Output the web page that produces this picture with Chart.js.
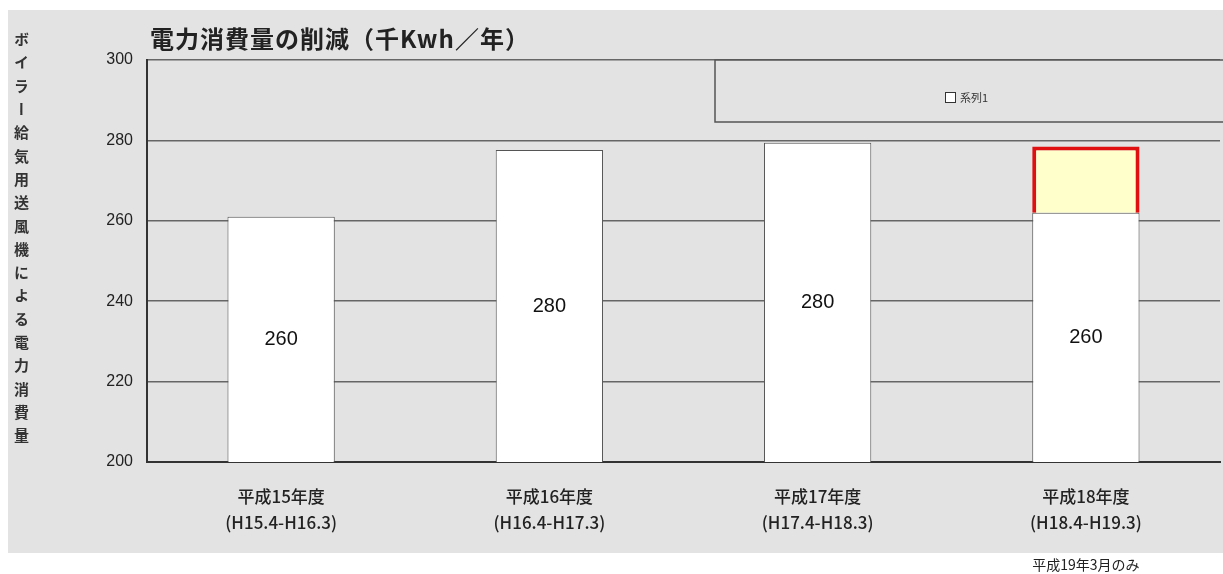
<!DOCTYPE html>
<html>
<head>
<meta charset="utf-8">
<script src="https://cdn.jsdelivr.net/npm/chart.js@4/dist/chart.umd.min.js"></script>
<style>
  html, body { margin: 0; padding: 0; background: #fff; }
  #wrap { position: relative; width: 1223px; height: 574px; }
  #yTitle {
    position: absolute; left: 11px; top: 32px;
    writing-mode: vertical-rl; text-orientation: upright;
    font-family: "Noto Sans CJK JP", sans-serif; font-weight: bold;
    font-size: 15px; letter-spacing: 8.3px; color: #333;
  }
</style>
</head>
<body>
<div id="wrap">
  <canvas id="mygraph" width="1223" height="574"></canvas>
  <div id="yTitle">ボイラー給気用送風機による電力消費量</div>
</div>
<script>
// chart data
const categories = [
  ['平成15年度', '(H15.4-H16.3)'],
  ['平成16年度', '(H16.4-H17.3)'],
  ['平成17年度', '(H17.4-H18.3)'],
  ['平成18年度', '(H18.4-H19.3)']
];
const series1 = [261, 277.6, 279.4, 262];
const bar_labels = ['260', '280', '280', '260'];
// highlighted reduction box on the last bar (from / to)
const reduction = [null, null, null, [262, 278.5]];
const y_ticks = [200, 220, 240, 260, 280, 300];
const title_text = '電力消費量の削減（千Kwh／年）';
const footnote = '平成19年3月のみ';

const jp = '"Noto Sans CJK JP", sans-serif';

// background, title, legend box, labels in bars
const decorations = {
  id: 'decorations',
  beforeDraw(chart) {
    const ctx = chart.ctx;
    ctx.save();
    ctx.fillStyle = '#ffffff';
    ctx.fillRect(0, 0, chart.width, chart.height);
    ctx.fillStyle = '#e3e3e3';
    ctx.fillRect(8, 10, chart.width - 8, 543);
    ctx.restore();
  },
  afterDatasetsDraw(chart) {
    const ctx = chart.ctx;
    const area = chart.chartArea;
    const x = chart.scales.x;
    const y = chart.scales.y;
    ctx.save();
    // title
    ctx.fillStyle = '#222';
    ctx.font = 'bold 24px ' + jp;
    ctx.textBaseline = 'middle';
    ctx.textAlign = 'left';
    ctx.letterSpacing = '1px';
    ctx.fillText(title_text, area.left + 3, area.top - 21);
    ctx.letterSpacing = '0px';

    // legend box
    const lx = 715;
    const ly = area.top;
    ctx.fillStyle = '#e3e3e3';
    ctx.fillRect(lx, ly, chart.width - lx, 62);
    ctx.strokeStyle = '#555';
    ctx.lineWidth = 1.5;
    ctx.strokeRect(lx, ly, chart.width - lx + 5, 62);
    ctx.fillStyle = '#fff';
    ctx.fillRect(945, 92, 10, 10);
    ctx.strokeStyle = '#333';
    ctx.lineWidth = 1;
    ctx.strokeRect(945.5, 92.5, 10, 10);
    ctx.fillStyle = '#333';
    ctx.font = '11px ' + jp;
    ctx.fillText(chart.data.datasets[0].label, 960, 98);

    // values inside bars
    ctx.font = '500 20px "Liberation Sans", Arial, sans-serif';
    ctx.textAlign = 'center';
    ctx.fillStyle = '#111';
    series1.forEach((v, i) => {
      const top = y.getPixelForValue(v);
      const base = y.getPixelForValue(y.min);
      ctx.fillText(bar_labels[i], x.getPixelForValue(i), (top + base) / 2);
    });

    // footnote
    ctx.font = '14px ' + jp;
    ctx.fillStyle = '#222';
    ctx.fillText(footnote, x.getPixelForValue(3), 565);
    ctx.restore();
  }
};

const graph = document.getElementById('mygraph');
new Chart(graph, {
  type: 'bar',
  data: {
    labels: categories,
    datasets: [
      {
        label: '系列1',
        data: series1,
        backgroundColor: '#ffffff',
        borderColor: '#555',
        borderWidth: 1,
        barPercentage: 0.8,
        categoryPercentage: 0.5,
        grouped: false,
        order: 2
      },
      {
        label: '削減',
        data: reduction,
        backgroundColor: '#ffffcc',
        borderColor: '#e01010',
        borderWidth: 4,
        barPercentage: 0.8,
        categoryPercentage: 0.5,
        grouped: false,
        order: 1
      }
    ]
  },
  options: {
    responsive: false,
    animation: false,
    layout: { padding: { top: 60, right: 3, left: 0, bottom: 0 } },
    plugins: {
      legend: { display: false },
      title: { display: false },
      tooltip: { enabled: false }
    },
    scales: {
      x: {
        grid: { display: false },
        border: { color: '#333', width: 2 },
        ticks: {
          color: '#222',
          font: { family: jp, size: 17, weight: '500', lineHeight: 1.5 },
          padding: 14,
          maxRotation: 0
        },
        afterFit(scale) { scale.height = 112; }
      },
      y: {
        min: 200,
        max: 300,
        afterBuildTicks(scale) { scale.ticks = y_ticks.map(v => ({ value: v })); },
        grid: { color: '#666', lineWidth: 1.5, drawTicks: false },
        border: { color: '#333', width: 2 },
        ticks: {
          color: '#222',
          font: { family: '"Liberation Sans", Arial, sans-serif', size: 16 },
          padding: 14
        },
        afterFit(scale) { scale.width = 147; }
      }
    }
  },
  plugins: [decorations]
});
</script>
</body>
</html>
